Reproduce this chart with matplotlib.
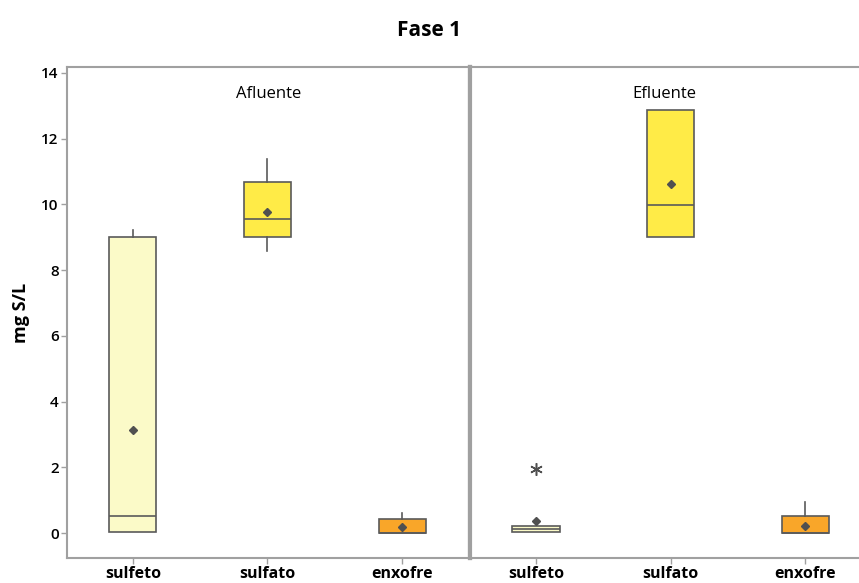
import matplotlib
matplotlib.use("Agg")
import matplotlib.pyplot as plt

plt.rcParams['font.family'] = ['Open Sans', 'DejaVu Sans']

categories = ['sulfeto', 'sulfato', 'enxofre']
panels = ['Afluente', 'Efluente']

# resumo dos boxplots (mg S/L) por painel: sulfeto, sulfato, enxofre
afl_q1 = [0.02, 9.0, 0.0]
afl_med = [0.52, 9.56, 0.0]
afl_q3 = [9.0, 10.68, 0.42]
afl_lo = [0.02, 8.58, 0.0]
afl_hi = [9.22, 11.38, 0.61]
afl_mean = [3.13, 9.78, 0.18]
afl_out = [[], [], []]

efl_q1 = [0.03, 9.0, 0.0]
efl_med = [0.12, 9.98, 0.0]
efl_q3 = [0.22, 12.88, 0.52]
efl_lo = [0.03, 9.0, 0.0]
efl_hi = [0.22, 12.88, 0.94]
efl_mean = [0.37, 10.63, 0.2]
efl_out = [[1.95], [], []]

colors = ['#FBFAC8', '#FFEB47', '#F9A629']
edge = '#5a5a5a'
spine_gray = '#a0a0a0'


def make_stats(q1, med, q3, lo, hi, mean, out):
    stats = []
    for i in range(len(q1)):
        stats.append(dict(q1=q1[i], med=med[i], q3=q3[i], whislo=lo[i],
                          whishi=hi[i], mean=mean[i], fliers=out[i]))
    return stats


fig = plt.figure(figsize=(8.59, 5.83), dpi=100)
ax1 = fig.add_axes([67 / 859, 1 - 558 / 583, 403 / 859, 491 / 583])
ax2 = fig.add_axes([470 / 859, 1 - 558 / 583, 388 / 859, 491 / 583], sharey=ax1)

data = [
    make_stats(afl_q1, afl_med, afl_q3, afl_lo, afl_hi, afl_mean, afl_out),
    make_stats(efl_q1, efl_med, efl_q3, efl_lo, efl_hi, efl_mean, efl_out),
]

for ax, stats, name in zip([ax1, ax2], data, panels):
    bp = ax.bxp(stats, positions=[1, 2, 3], widths=0.35, patch_artist=True,
                showmeans=True, showcaps=False,
                boxprops=dict(edgecolor=edge, linewidth=1.2),
                medianprops=dict(color=edge, linewidth=1.2),
                whiskerprops=dict(color=edge, linewidth=1.2),
                meanprops=dict(marker='D', markerfacecolor='#505050',
                               markeredgecolor='#505050', markersize=4.5),
                flierprops=dict(marker=(6, 2, 0), markeredgecolor='#505050',
                                markersize=9, markeredgewidth=1.1))
    for patch, c in zip(bp['boxes'], colors):
        patch.set_facecolor(c)
    ax.set_xticks([1, 2, 3])
    ax.set_xticklabels(categories, fontsize=11.5, fontweight='bold')
    ax.text(0.5, 0.945, name, transform=ax.transAxes, ha='center', va='center',
            fontsize=12)
    ax.tick_params(axis='both', direction='out', length=4, color=spine_gray,
                   width=1, pad=2)
    for s in ax.spines.values():
        s.set_color(spine_gray)
        s.set_linewidth(1.5)

ax1.set_xlim(0.51, 3.505)
ax2.set_xlim(0.51, 3.39)
ax1.set_ylim(-0.76, 14.18)
ax1.set_yticks(range(0, 15, 2))
ax1.tick_params(axis='y', labelsize=11)
for lab in ax1.get_yticklabels():
    lab.set_fontweight('semibold')
ax1.set_ylabel('mg S/L', fontsize=13, fontweight='bold', labelpad=8)
ax2.tick_params(axis='y', left=False, labelleft=False)
ax1.spines['right'].set_linewidth(3)
ax2.spines['left'].set_linewidth(3)
ax2.spines['right'].set_visible(False)

fig.suptitle('Fase 1', fontsize=15, fontweight='bold', y=0.965)

fig.savefig('out.png', dpi=100)
